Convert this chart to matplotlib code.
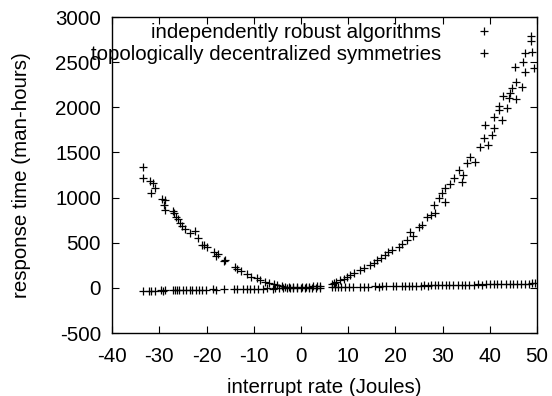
import matplotlib
matplotlib.use('Agg')
import matplotlib.pyplot as plt

# parabola-like series
curve_x = [-33.4, -33.4, -32.0, -31.4, -31.8, -30.9, -29.5, -28.8, -29.1, -28.8,
           -27.2, -26.9, -26.4, -26.1, -25.6, -25.1, -24.5, -23.5, -22.4, -21.7,
           -21.0, -20.5, -19.9, -18.5, -18.0, -17.6, -16.3, -16.1, -13.9, -13.5,
           -12.8, -11.5, -10.6, -9.3, -8.6, -7.6, -6.8, -5.8, -5.0, -4.1,
           -3.3, -2.5, -1.6, -0.8, 0.2, 1.0, 1.8, 2.6, 3.4, 4.1,
           6.5, 6.9, 7.5, 8.3, 9.1, 9.7, 10.4, 11.2, 12.5, 13.3,
           14.7, 15.4, 16.1, 17.0, 17.8, 18.5, 19.3, 20.7, 21.3, 22.4,
           23.1, 23.8, 24.9, 25.6, 26.7, 27.5, 28.1, 28.4, 29.2, 29.8,
           30.5, 30.5, 31.6, 32.3, 33.4, 34.1, 34.4, 35.2, 35.8, 36.9,
           39.0, 38.0, 38.8, 39.7, 40.4, 40.8, 40.8, 41.9, 41.9, 42.6,
           42.8, 43.6, 44.0, 44.3, 44.7, 45.4, 45.6, 45.6, 46.8, 47.0,
           47.5, 47.5, 48.7, 48.7, 48.9, 49.3]
curve_y = [1337, 1215, 1188, 1159, 1055, 1104, 982, 974, 919, 864,
           850, 834, 790, 760, 716, 690, 653, 605, 631, 550,
           476, 470, 451, 402, 354, 380, 299, 310, 229, 210,
           185, 155, 120, 107, 85, 70, 55, 41, 30, 22,
           14, 12, 10, 8, 9, 12, 14, 16, 20, 24,
           40, 52, 62, 89, 100, 118, 144, 160, 199, 225,
           255, 275, 310, 330, 365, 395, 421, 457, 490, 532,
           623, 580, 679, 700, 790, 810, 919, 827, 1000, 1049,
           1104, 956, 1150, 1215, 1307, 1177, 1251, 1381, 1454, 1398,
           1805, 1565, 1657, 1583, 1694, 1768, 1897, 2015, 1971, 1860,
           2126, 1990, 2107, 2163, 2211, 2451, 2285, 2090, 2222, 2506,
           2599, 2396, 2791, 2739, 2617, 2440]

# nearly flat series
line_x = [-33.5, -32.2, -31.8, -31.0, -29.6, -29.2, -28.8, -27.0, -26.6, -26.2,
          -25.8, -25.0, -24.4, -23.6, -23.0, -22.2, -21.6, -21.0, -20.2, -18.6,
          -18.0, -16.4, -14.2, -13.6, -12.2, -11.4, -10.8, -10.0, -9.2, -8.0,
          -7.2, -6.0, -5.4, -4.6, -3.8, -3.0, -2.4, -1.6, -0.8, 0.0,
          0.8, 1.6, 2.4, 3.2, 4.0, 6.6, 7.2, 7.8, 8.4, 9.4,
          10.2, 11.0, 12.6, 13.4, 14.2, 15.6, 16.6, 17.2, 18.0, 19.4,
          20.2, 21.4, 22.0, 22.8, 23.6, 24.4, 25.4, 26.0, 26.8, 27.6,
          28.4, 29.0, 29.8, 30.8, 31.4, 32.2, 33.2, 34.0, 34.8, 35.6,
          36.6, 37.4, 38.4, 39.2, 40.0, 40.8, 41.6, 42.4, 43.4, 44.2,
          45.0, 45.8, 46.6, 47.4, 48.2, 49.0, 49.6]
line_y = [-34, -31, -33, -30, -28, -31, -27, -26, -28, -25,
          -27, -24, -25, -22, -24, -21, -23, -20, -21, -17,
          -19, -15, -13, -15, -11, -12, -10, -11, -8, -9,
          -6, -7, -4, -5, -3, -4, -1, -2, 0, 1,
          0, 2, 1, 4, 3, 7, 6, 9, 7, 10,
          9, 12, 11, 14, 13, 16, 15, 18, 17, 20,
          19, 22, 21, 24, 22, 25, 24, 27, 26, 29,
          27, 30, 28, 32, 30, 33, 32, 35, 33, 37,
          35, 38, 37, 40, 39, 42, 40, 43, 42, 45,
          44, 47, 45, 48, 47, 50, 49]

labels = ['independently robust algorithms', 'topologically decentralized symmetries']

fs = 14.8
plt.rcParams['font.family'] = ['Liberation Sans', 'DejaVu Sans']
plt.rcParams['font.size'] = fs
plt.rcParams['axes.unicode_minus'] = False

fig = plt.figure(figsize=(5.52, 3.96), dpi=100)
ax = fig.add_axes([0.203, 0.159, 0.770, 0.798])

ax.plot(curve_x, curve_y, linestyle='none', marker='+', markersize=6, mew=0.9,
        color='black', label=labels[0])
ax.plot(line_x, line_y, linestyle='none', marker='+', markersize=6, mew=0.9,
        color='black', label=labels[1])

ax.set_xlim(-40, 50)
ax.set_ylim(-500, 3000)
ax.set_xticks(range(-40, 51, 10))
ax.set_yticks(range(-500, 3001, 500))
ax.tick_params(direction='in', top=True, right=True, length=5, width=0.8,
               labelsize=fs)
ax.tick_params(axis='x', pad=10)
ax.tick_params(axis='y', pad=8)
for s in ax.spines.values():
    s.set_linewidth(1.0)

ax.set_xlabel('interrupt rate (Joules)', fontsize=fs, labelpad=9)
ax.set_ylabel('response time (man-hours)', fontsize=fs, labelpad=17)

ax.legend(loc='upper right', bbox_to_anchor=(0.962, 1.0), frameon=False,
          markerfirst=False, fontsize=fs, handlelength=3.0, handletextpad=0.6,
          borderaxespad=0.0, labelspacing=0.15, numpoints=1, borderpad=0.3)

fig.savefig('out.png', dpi=100)
